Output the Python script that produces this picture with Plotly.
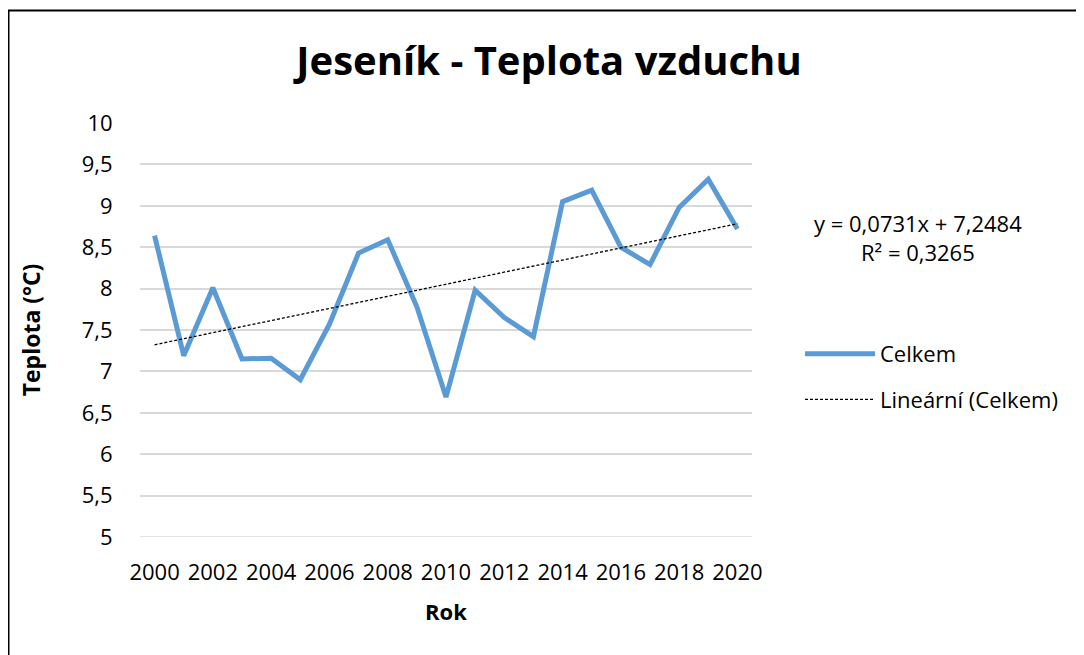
import plotly.graph_objects as go

years = list(range(2000, 2021))
celkem = [8.64, 7.19, 8.01, 7.15, 7.16, 6.90, 7.57, 8.43, 8.59, 7.78, 6.69,
          7.98, 7.65, 7.42, 9.05, 9.19, 8.50, 8.29, 8.98, 9.32, 8.72]
trend_slope = 0.0731
trend_intercept = 7.2484
trend = [trend_intercept + trend_slope * (i + 1) for i in range(len(years))]
x_ticks = list(range(2000, 2021, 2))
y_min, y_max = 5, 10
title_text = "Jeseník - Teplota vzduchu"
eq_text = "y = 0,0731x + 7,2484<br>R² = 0,3265"

# page has an 8px body margin; work in page pixels and convert
OFF = 8
W, H = 1084 - OFF, 655 - OFF
PL, PR, PT, PB = 140, 752, 123, 537          # plot area in page pixels
ML, MT = PL - OFF, PT - OFF
MR, MB = W - (PR - OFF), H - (PB - OFF)
PW, PH = PR - PL, PB - PT

def px_x(p):
    return (p - PL) / PW

def px_y(p):
    return (PB - p) / PH

FONT = "Open Sans"
GRID = "#D9D9D9"
fig = go.Figure()
fig.add_trace(go.Scatter(x=years, y=celkem, mode="lines", name="Celkem",
                         line=dict(color="#5B9BD5", width=5),
                         legendgroup="a"))
fig.add_trace(go.Scatter(x=years, y=trend, mode="lines", name="Lineární (Celkem)",
                         line=dict(color="#000000", width=1.3, dash="3px,2px"),
                         legendgroup="b"))

fig.update_layout(
    width=W, height=H,
    margin=dict(l=ML, r=MR, t=MT, b=MB),
    paper_bgcolor="white", plot_bgcolor="white",
    separators=", ",
    font=dict(family=FONT, size=22, color="#000000"),
    title=dict(text="<b>" + title_text + "</b>", x=(549 - OFF) / W, xanchor="center",
               y=1 - (61 - OFF) / H, yanchor="middle",
               font=dict(family=FONT, size=40, color="#000000")),
    showlegend=True,
    legend=dict(x=px_x(800), xanchor="left", y=px_y(377), yanchor="middle",
                font=dict(family=FONT, size=22), tracegroupgap=14,
                itemwidth=70,
                traceorder="grouped", bgcolor="rgba(0,0,0,0)"),
    xaxis=dict(range=[1999.5, 2020.5], tickvals=x_ticks, showgrid=False,
               showline=False, zeroline=False, ticks="outside", ticklen=16,
               tickcolor="rgba(0,0,0,0)", tickfont=dict(size=22),
               title=dict(text="<b>Rok</b>", font=dict(size=22), standoff=19)),
    yaxis=dict(range=[y_min, y_max], tick0=5, dtick=0.5, showgrid=True, gridcolor=GRID,
               gridwidth=1.5, showline=False, zeroline=False, ticks="outside",
               ticklen=22, tickcolor="rgba(0,0,0,0)", tickfont=dict(size=22),
               title=dict(text="<b>Teplota (°C)</b>", font=dict(size=23), standoff=34)),
    annotations=[dict(text=eq_text, xref="paper", yref="paper",
                      x=px_x(918), y=px_y(237), xanchor="center", yanchor="middle",
                      showarrow=False, align="center",
                      font=dict(family=FONT, size=22, color="#000000"))],
    shapes=[dict(type="rect", xref="paper", yref="paper",
                 x0=px_x(8.5), x1=px_x(1110), y0=px_y(680), y1=px_y(10.5),
                 line=dict(color="#000000", width=2), fillcolor="rgba(0,0,0,0)",
                 layer="below"),
            dict(type="line", xref="paper", yref="y", x0=0, x1=1,
                 y0=y_min, y1=y_min, line=dict(color=GRID, width=1.5),
                 layer="above")],
)

fig.write_html("out.html")
